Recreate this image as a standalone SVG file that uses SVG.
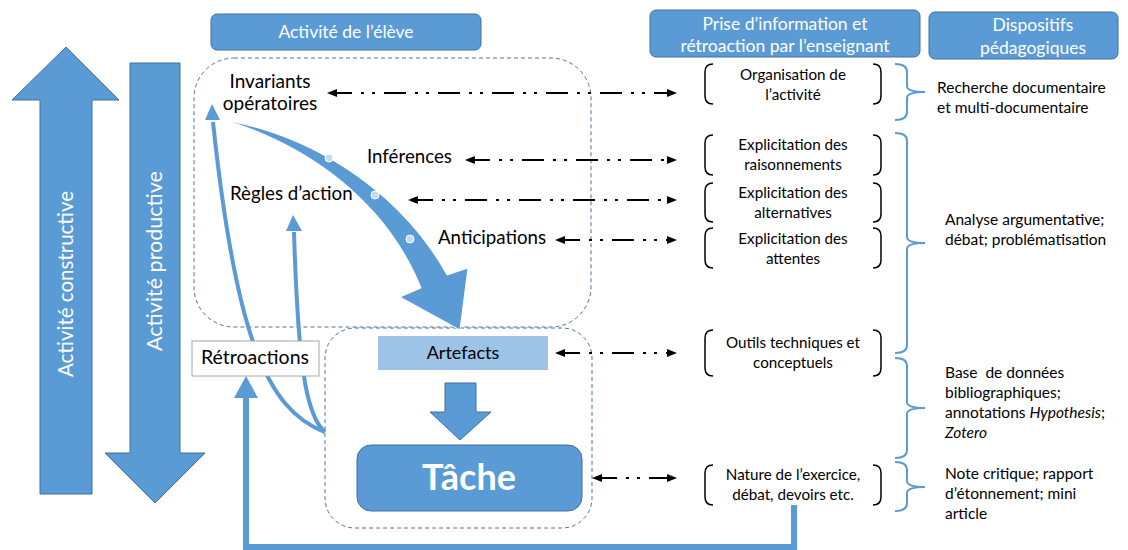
<svg xmlns="http://www.w3.org/2000/svg" width="1128" height="550" viewBox="0 0 1128 550">
<defs>
<style>
.hdr{fill:#5b9bd5;stroke:#41719c;stroke-width:1}
.wt{font-family:Lato,"Noto Sans",sans-serif;fill:#fff;text-anchor:middle}
.t{font-family:Lato,"Noto Sans",sans-serif;fill:#000}
.c{text-anchor:middle}
.it{font-size:15.2px}
.rt{font-size:15.5px}
.lb{font-size:18.7px}
.dash{fill:none;stroke:#4f7398;stroke-width:1;stroke-dasharray:4 3}
.conn{fill:none;stroke:#000;stroke-width:2.2;stroke-dasharray:22 9 3 8 3 9;marker-start:url(#ah);marker-end:url(#ah)}
.brk{fill:none;stroke:#000;stroke-width:1.5}
.brace{fill:none;stroke:#5b9bd5;stroke-width:2}
.blue{fill:#5b9bd5;stroke:#41719c;stroke-width:1}
.fb{fill:none;stroke:#5b9bd5;stroke-width:4}
</style>
<marker id="ah" viewBox="0 0 10 8" refX="7" refY="4" markerWidth="11" markerHeight="8" markerUnits="userSpaceOnUse" orient="auto-start-reverse"><path d="M0,0 L10,4 L0,8 Z" fill="#000"/></marker>
</defs>

<!-- left big arrows -->
<g id="activite-constructive">
<path class="blue" d="M40,494 L40,100 L12,100 L66,47 L119,100 L92,100 L92,494 Z"/>
<text class="wt" font-size="20.5" transform="translate(73,284) rotate(-90)">Activité constructive</text>
</g>
<g id="activite-productive">
<path class="blue" d="M130,63 L180,63 L180,453 L205,453 L155,503 L105,453 L130,453 Z"/>
<text class="wt" font-size="21.5" transform="translate(162,261) rotate(-90)">Activité productive</text>
</g>

<!-- headers -->
<g id="hdr-eleve">
<rect class="hdr" x="211" y="14" width="270" height="36" rx="6"/>
<text class="wt" x="346" y="38" font-size="17.5">Activité de l’élève</text>
</g>
<g id="hdr-enseignant">
<rect class="hdr" x="650" y="10" width="270" height="47" rx="6"/>
<text class="wt" x="785" y="30" font-size="17.5">Prise d’information et</text>
<text class="wt" x="785" y="52" font-size="17.5">rétroaction par l’enseignant</text>
</g>
<g id="hdr-dispositifs">
<rect class="hdr" x="929" y="12" width="189" height="47" rx="6"/>
<text class="wt" x="1033" y="31" font-size="17.5">Dispositifs</text>
<text class="wt" x="1033" y="54" font-size="17.5">pédagogiques</text>
</g>

<!-- dashed containers -->
<g id="zone-activite">
<rect class="dash" x="194" y="58" width="397" height="269" rx="40"/>
</g>
<g id="zone-tache">
<rect class="dash" x="325" y="328" width="267" height="200" rx="30"/>
</g>

<!-- big curved arrow -->
<g id="fleche-courbe">
<path d="M228,121 C310,135 400,190 447,275 L468,268 L460,330 L400,297 L421,288 C390,210 320,150 228,121 Z" fill="#5b9bd5" stroke="#ffffff" stroke-width="1"/>
<circle cx="329" cy="158" r="4" fill="#c5d9f0" stroke="#fff" stroke-width="1"/>
<circle cx="375" cy="195" r="4" fill="#c5d9f0" stroke="#fff" stroke-width="1"/>
<circle cx="410" cy="239" r="4" fill="#c5d9f0" stroke="#fff" stroke-width="1"/>
</g>

<!-- connectors -->
<g id="connecteurs">
<path class="conn" d="M330,93 L674,93"/>
<path class="conn" d="M468,160 L674,160"/>
<path class="conn" d="M411,200 L674,200"/>
<path class="conn" d="M558,240 L674,240"/>
<path class="conn" d="M558,353 L674,353"/>
<path class="conn" d="M595,478 L674,478"/>
<path class="fb" d="M325,432 C265,410 235,330 213,122"/>
<path d="M205,120 L212,104 L220,120 Z" fill="#5b9bd5"/>
<path class="fb" d="M325,432 C305,415 298,360 294,232"/>
<path d="M286,231 L293,215 L302,231 Z" fill="#5b9bd5"/>
<path d="M794,505 L794,547 L246,547 L246,396" fill="none" stroke="#5b9bd5" stroke-width="6"/>
<path d="M234,398 L246,376 L258,398 Z" fill="#5b9bd5"/>
</g>

<!-- student activity labels -->
<g id="invariants">
<text class="t c" x="270" y="88" font-size="19">Invariants</text>
<text class="t c" x="270" y="110" font-size="19">opératoires</text>
</g>
<g id="inferences"><text class="t lb" x="367" y="163">Inférences</text></g>
<g id="regles"><text class="t lb" x="230" y="200">Règles d’action</text></g>
<g id="anticipations"><text class="t lb" x="438" y="244">Anticipations</text></g>

<g id="retroactions">
<rect x="192" y="341" width="127" height="35" fill="#fff" stroke="#a6a6a6" stroke-width="1"/>
<text class="t c" x="255" y="364" font-size="19.5">Rétroactions</text>
</g>
<g id="artefacts">
<rect x="378" y="336" width="170" height="34" fill="#9dc3e6"/>
<text class="t c" x="463" y="359" font-size="18">Artefacts</text>
</g>
<g id="fleche-bas">
<path class="blue" d="M445,383 L476,383 L476,412 L491,412 L460,440 L430,412 L445,412 Z"/>
</g>
<g id="tache">
<rect class="blue" x="357" y="445" width="225" height="66" rx="14"/>
<text class="wt" x="469" y="490" font-size="36" font-weight="bold">Tâche</text>
</g>

<!-- teacher column -->
<g id="organisation">
<path class="brk" d="M713,64 Q705,64 705,72 L705,96 Q705,104 713,104 M873,64 Q881,64 881,72 L881,96 Q881,104 873,104"/>
<text class="t c it" x="793" y="80">Organisation de</text>
<text class="t c it" x="793" y="100">l’activité</text>
</g>
<g id="raisonnements">
<path class="brk" d="M713,135 Q705,135 705,143 L705,167 Q705,175 713,175 M873,135 Q881,135 881,143 L881,167 Q881,175 873,175"/>
<text class="t c it" x="793" y="150">Explicitation des</text>
<text class="t c it" x="793" y="170">raisonnements</text>
</g>
<g id="alternatives">
<path class="brk" d="M713,183 Q705,183 705,191 L705,214 Q705,222 713,222 M873,183 Q881,183 881,191 L881,214 Q881,222 873,222"/>
<text class="t c it" x="793" y="198">Explicitation des</text>
<text class="t c it" x="793" y="218">alternatives</text>
</g>
<g id="attentes">
<path class="brk" d="M713,228 Q705,228 705,236 L705,260 Q705,268 713,268 M873,228 Q881,228 881,236 L881,260 Q881,268 873,268"/>
<text class="t c it" x="793" y="244">Explicitation des</text>
<text class="t c it" x="793" y="264">attentes</text>
</g>
<g id="outils">
<path class="brk" d="M713,330 Q705,330 705,338 L705,368 Q705,376 713,376 M873,330 Q881,330 881,338 L881,368 Q881,376 873,376"/>
<text class="t c it" x="793" y="348">Outils techniques et</text>
<text class="t c it" x="793" y="368">conceptuels</text>
</g>
<g id="nature">
<path class="brk" d="M713,465 Q705,465 705,473 L705,497 Q705,505 713,505 M873,465 Q881,465 881,473 L881,497 Q881,505 873,505"/>
<text class="t c it" x="793" y="480">Nature de l’exercice,</text>
<text class="t c it" x="793" y="500">débat, devoirs etc.</text>
</g>

<!-- dispositifs -->
<g id="recherche">
<path class="brace" d="M895,64 Q907,64 907,72 L907,86 Q907,92 925,92 Q907,92 907,98 L907,112 Q907,120 895,120"/>
<text class="t rt" x="937" y="93">Recherche documentaire</text>
<text class="t rt" x="937" y="113">et multi-documentaire</text>
</g>
<g id="analyse">
<path class="brace" d="M895,133 Q907,133 907,141 L907,237 Q907,243 925,243 Q907,243 907,249 L907,345 Q907,353 895,353"/>
<text class="t rt" x="945" y="225">Analyse argumentative;</text>
<text class="t rt" x="945" y="245">débat; problématisation</text>
</g>
<g id="base">
<path class="brace" d="M895,358 Q907,358 907,366 L907,402 Q907,408 925,408 Q907,408 907,414 L907,450 Q907,458 895,458"/>
<text class="t rt" x="945" y="378" xml:space="preserve">Base  de données</text>
<text class="t rt" x="945" y="398">bibliographiques;</text>
<text class="t rt" x="945" y="418">annotations <tspan font-style="italic">Hypothesis</tspan>;</text>
<text class="t rt" x="945" y="438" font-style="italic">Zotero</text>
</g>
<g id="note">
<path class="brace" d="M895,462 Q907,462 907,470 L907,481 Q907,487 925,487 Q907,487 907,493 L907,503 Q907,511 895,511"/>
<text class="t rt" x="945" y="479">Note critique; rapport</text>
<text class="t rt" x="945" y="499">d’étonnement; mini</text>
<text class="t rt" x="945" y="519">article</text>
</g>
</svg>
